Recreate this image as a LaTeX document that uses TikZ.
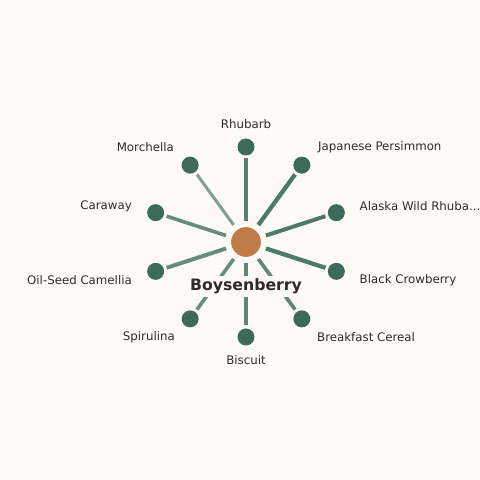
\documentclass[tikz,border=0pt]{standalone}
\usepackage{fontspec}
\setmainfont{DejaVu Sans}
\definecolor{bgc}{HTML}{FFFAF6}
\definecolor{spokec}{HTML}{4B7B69}
\definecolor{dotc}{HTML}{3D6B5A}
\definecolor{hubc}{HTML}{C17B48}
\definecolor{inkc}{HTML}{2E2B28}
\tikzset{
hub/.style={circle,fill=hubc,draw=white,line width=2pt,minimum size=32pt,inner sep=0pt,outer sep=5pt},
leaf/.style={circle,fill=dotc,minimum size=17pt,inner sep=0pt,outer sep=3pt},
lab/.style={text=inkc,font=\fontsize{11.8}{14}\selectfont,inner sep=0pt},
side/.style={lab,yshift=-1.5pt},
spk/.style={draw=spokec,line cap=butt},
}
\begin{document}
\begin{tikzpicture}[x=1pt,y=1pt]
\useasboundingbox[fill=bgc] (0,0) rectangle (480,480);
\begin{scope}[shift={(246,238)}]
\path
(90:95) node[leaf](1){}
(54:95) node[leaf](2){}
(18:95) node[leaf](3){}
(-18:95) node[leaf](4){}
(-54:95) node[leaf](5){}
(-90:95) node[leaf](6){}
(-126:95) node[leaf](7){}
(-162:95) node[leaf](8){}
(162:95) node[leaf](9){}
(126:95) node[leaf](10){};
\node[hub] (0) at (0,0) {};
\path[spk,line width=4pt,draw opacity=.95] (0)--(1);
\path[spk,line width=4.3pt] (0)--(2);
\path[spk,line width=4pt] (0)--(3);
\path[spk,line width=4.3pt] (0)--(4);
\path[spk,line width=3.6pt,draw opacity=.9] (0)--(5);
\path[spk,line width=3.6pt,draw opacity=.9] (0)--(6);
\path[spk,line width=3.6pt,draw opacity=.85] (0)--(7);
\path[spk,line width=4pt,draw opacity=.85] (0)--(8);
\path[spk,line width=3.6pt,draw opacity=.85] (0)--(9);
\path[spk,line width=3pt,draw opacity=.7] (0)--(10);
% labels
\node[lab] (t1) at (90:118) {Rhubarb};
\node[lab,anchor=west] (t2) at (72,95) {Japanese Persimmon};
\node[side,anchor=west] (t3) at (113.5,37) {Alaska Wild Rhuba...};
\node[side,anchor=west] (t4) at (113.5,-37) {Black Crowberry};
\node[lab,anchor=west] (t5) at (71,-95) {Breakfast Cereal};
\node[lab] (t6) at (-90:118) {Biscuit};
\node[lab,anchor=east] (t7) at (-71,-95) {Spirulina};
\node[side,anchor=east] (t8) at (-114,-37) {Oil-Seed Camellia};
\node[side,anchor=east] (t9) at (-114,37) {Caraway};
\node[lab,anchor=east] (t10) at (-72,95) {Morchella};
\node[fill=bgc,text=inkc,inner sep=3pt,font=\fontsize{15.7}{18}\selectfont\bfseries] (name) at (0,-44.5) {Boysenberry};
\end{scope}
\end{tikzpicture}
\end{document}
